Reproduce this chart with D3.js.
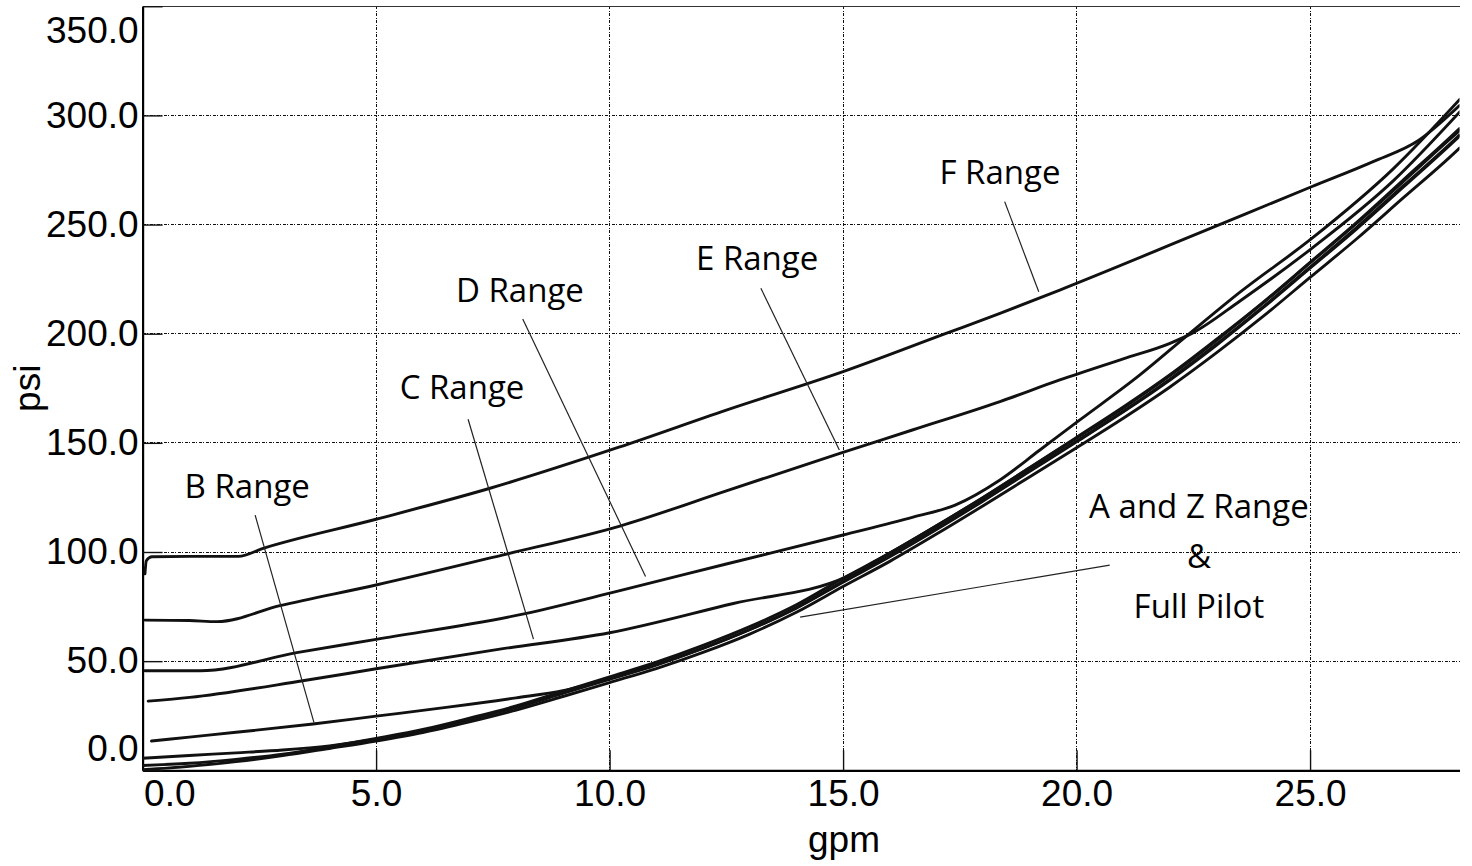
<!DOCTYPE html>
<html>
<head>
<meta charset="utf-8">
<script src="https://cdn.jsdelivr.net/npm/d3@7"></script>
<style>
	body{margin:0;background:#fff}
	svg{display:block}
</style>
</head>
<body>
<svg id="chart" width="1472" height="866"></svg>
<script>
const xTicks = [0, 5, 10, 15, 20, 25]
const yTicks = [0, 50, 100, 150, 200, 250, 300, 350]

// [gpm, psi]
const fRange = [[0.05, 90], [0.08, 96], [0.2, 97.8], [1.0, 98], [2.05, 98], [2.6, 101.8], [5, 115], [7.44, 129.2], [10.2, 148], [12.5, 165], [15, 182.6], [17.19, 200], [18.36, 209.3], [19.64, 220], [22.5, 245], [25.03, 267.3], [26.35, 278.8], [27.32, 288.5], [28.2, 304.5]]
const eRange = [[0.05, 68.8], [1.0, 68.6], [1.59, 68.1], [2.94, 75.4], [5, 84.9], [7.7, 98.6], [10.22, 111.9], [12.5, 128], [14.93, 145.2], [16.5, 156], [18.36, 168.9], [19.64, 178.8], [21, 188.5], [22, 195.6], [22.5, 200.5], [23.5, 215], [25.03, 239], [26.78, 270], [28.21, 301.7]]
const dRange = [[0.05, 45.6], [1.23, 45.6], [3.3, 53.9], [5, 60], [8.22, 71.9], [10.22, 82.3], [12.5, 94.5], [15.0, 107.8], [16.5, 116], [17.4, 121.5], [18.36, 133], [19.2, 146.5], [20.07, 160.5], [21.35, 181], [22.36, 199], [23.5, 219], [25.03, 243.5], [26.78, 275.5], [28.21, 307.4]]
const cRange = [[0.12, 31.7], [1.01, 33.4], [3.43, 41], [5, 46.5], [7.65, 55.5], [10, 63], [12.65, 76.4], [15.08, 88.7], [16, 99.5], [17, 112], [18, 125], [19, 138.7], [20, 152.5], [21, 166.4], [22, 181.2], [23, 197.5], [24, 214.5], [25, 232.7], [26, 251], [27, 270.5], [28, 290], [28.2, 294]]
const bRange = [[0.19, 13.4], [1.0, 15.2], [2.0, 17.4], [3.65, 21.2], [5, 24.8], [6.5, 28.8], [8.0, 33.2], [9.0, 36.5], [10, 42], [11, 48.5], [12, 56], [13, 64.5], [14, 74.6], [15, 86.6], [16, 98.2], [17, 110.6], [18, 123.7], [19, 137.3], [20, 150.8], [21, 164.5], [22, 179.2], [23, 195.3], [24, 212.4], [25, 230.5], [26, 248.7], [27, 267.8], [28, 287], [28.2, 291]]
const aRange = [[0, 5.5], [1, 6.8], [2, 8.0], [3, 9.3], [4, 11.2], [5, 14.2], [6, 18.2], [7, 23.2], [8, 28.7], [9, 35.2], [10, 41.7], [11, 48.2], [12, 55.8], [13, 64.4], [14, 74.3], [15, 86.2], [16, 97.8], [17, 110.3], [18, 123.4], [19, 137], [20, 150.5], [21, 164.2], [22, 178.8], [23, 194.8], [24, 212], [25, 230], [26, 248], [27, 267.2], [28, 286.5], [28.2, 290.5]]
const zRange = [[0, 0.3], [1, 1.8], [2, 4], [3, 6.7], [4, 10], [5, 13.4], [6, 17.3], [7, 22.2], [8, 27.6], [9, 33.8], [10, 40.2], [11, 46.6], [12, 54], [13, 62.4], [14, 72.4], [15, 84.2], [16, 95.7], [17, 108.2], [18, 121.2], [19, 134.5], [20, 147.8], [21, 161.3], [22, 175.6], [23, 191.3], [24, 208], [25, 225.8], [26, 243.5], [27, 262.3], [28, 281], [28.2, 285]]
const fullPilot = [[0, 2.2], [1, 3.2], [2, 5], [3, 7.4], [4, 10.8], [5, 14.6], [6, 18.7], [7, 23.9], [8, 29.5], [9, 36.2], [10, 42.8], [11, 49.5], [12, 57.2], [13, 65.8], [14, 75.8], [15, 88], [16, 99.5], [17, 112], [18, 125], [19, 138.6], [20, 152.2], [21, 166], [22, 180.8], [23, 197], [24, 214.2], [25, 232.4], [26, 250.6], [27, 269.8], [28, 289.2], [28.2, 293]]

const series = [zRange, fullPilot, aRange, bRange, cRange, dRange, eRange, fRange]

// callouts: text anchor and leader line, in gpm/psi
const callouts = [
	{text: ["F Range"], at: [18.36, 268.6], leader: [[18.46, 260.5], [19.19, 219.2]]},
	{text: ["E Range"], at: [13.16, 229.2], leader: [[13.24, 220.8], [14.92, 146.7]]},
	{text: ["D Range"], at: [8.08, 214.7], leader: [[8.14, 206.7], [10.77, 88.8]]},
	{text: ["C Range"], at: [6.84, 170], leader: [[6.97, 160.8], [8.37, 60.1]]},
	{text: ["B Range"], at: [2.24, 124.6], leader: [[2.41, 116.9], [3.67, 21.8]]},
	{text: ["A and Z Range", "&", "Full Pilot"], at: [22.62, 115.4], leader: [[20.71, 94.0], [14.08, 70.2]]}
]

const width = 1472, height = 866,
margin = {top: 6.25, right: 12.5, bottom: 95.7, left: 142.6},
svg = d3.select("#chart"),
x = d3.scaleLinear().domain([0, 28.2]).range([margin.left, width - margin.right]),
y = d3.scaleLinear().domain([0, 350]).range([height - margin.bottom, margin.top]),
fmt = d3.format(".1f"),
tickFont = "'Liberation Sans', Arial, sans-serif",
gridStyle = "fill: none; stroke: #111; stroke-width: 1; stroke-dasharray: 3,1.5,1,1.5; shape-rendering: crispEdges;"

svg.append("defs").append("clipPath").attr("id", "plotClip")
	.append("rect")
	.attr("x", x(0)).attr("y", y(350))
	.attr("width", x(28.2) - x(0)).attr("height", y(0) - y(350))

const grid = svg.append("g").classed("gridLines", true)
grid.append("g").selectAll("line")
	.data(xTicks.filter(d => d > 0))
	.enter().append("line")
	.attr("x1", d => x(d)).attr("x2", d => x(d))
	.attr("y1", y(350)).attr("y2", y(0))
	.attr("style", gridStyle)
grid.append("g").selectAll("line")
	.data(yTicks.filter(d => d > 0 && d < 350))
	.enter().append("line")
	.attr("y1", d => y(d)).attr("y2", d => y(d))
	.attr("x1", x(0)).attr("x2", x(28.2))
	.attr("style", gridStyle)

svg.append("line")
	.attr("x1", x(0)).attr("x2", x(28.2))
	.attr("y1", y(350)).attr("y2", y(350))
	.attr("stroke", "#333").attr("stroke-width", 1)
	.attr("shape-rendering", "crispEdges")

const xAxis = svg.append("g")
	.attr("transform", `translate(0,${y(0)})`)
	.call(d3.axisBottom(x).tickValues(xTicks).tickFormat(fmt).tickSize(-20).tickSizeOuter(0).tickPadding(9))
const yAxis = svg.append("g")
	.attr("transform", `translate(${x(0)},0)`)
	.call(d3.axisLeft(y).tickValues(yTicks).tickFormat(fmt).tickSize(-20).tickSizeOuter(0).tickPadding(4))

for (const ax of [xAxis, yAxis]) {
	ax.select(".domain").attr("stroke", "#000").attr("stroke-width", 2.2)
	ax.selectAll(".tick line").attr("stroke", "#111").attr("stroke-width", 1.4)
	ax.selectAll("text").attr("font-family", tickFont).attr("font-size", 37).attr("fill", "#000")
}
// end labels are pulled inside the frame
xAxis.selectAll(".tick text").filter(d => d === 0).attr("text-anchor", "start").attr("x", 1)
yAxis.selectAll(".tick text").filter(d => d === 350).attr("dy", "0.71em").attr("y", 10)
yAxis.selectAll(".tick text").filter(d => d === 0).attr("dy", 0).attr("y", -10)

svg.append("text")
	.attr("transform", `translate(40,${(y(0) + y(350)) / 2}) rotate(-90)`)
	.attr("text-anchor", "middle")
	.attr("font-family", tickFont).attr("font-size", 37)
	.text("psi")
svg.append("text")
	.attr("x", 844).attr("y", 852)
	.attr("text-anchor", "middle")
	.attr("font-family", tickFont).attr("font-size", 37)
	.text("gpm")

const line = d3.line().x(d => x(d[0])).y(d => y(d[1])).curve(d3.curveMonotoneX)
svg.append("g").attr("clip-path", "url(#plotClip)")
	.selectAll("path")
	.data(series)
	.enter().append("path")
	.attr("d", line)
	.attr("fill", "none")
	.attr("stroke", "#111")
	.attr("stroke-width", 2.9)
	.attr("stroke-linejoin", "round")
	.attr("stroke-linecap", "round")

const notes = svg.append("g").classed("callouts", true)
notes.selectAll("line")
	.data(callouts)
	.enter().append("line")
	.attr("x1", d => x(d.leader[0][0])).attr("y1", d => y(d.leader[0][1]))
	.attr("x2", d => x(d.leader[1][0])).attr("y2", d => y(d.leader[1][1]))
	.attr("stroke", "#222").attr("stroke-width", 1.2)
notes.selectAll("text")
	.data(callouts)
	.enter().append("text")
	.attr("text-anchor", "middle")
	.attr("font-family", "'Open Sans', 'Noto Sans', sans-serif")
	.attr("font-size", 33)
	.attr("fill", "#000")
	.each(function(d){
		d3.select(this).selectAll("tspan")
			.data(d.text)
			.enter().append("tspan")
			.attr("x", x(d.at[0]))
			.attr("y", (t, i) => y(d.at[1]) + i * 50)
			.text(t => t)
	})
</script>
</body>
</html>
